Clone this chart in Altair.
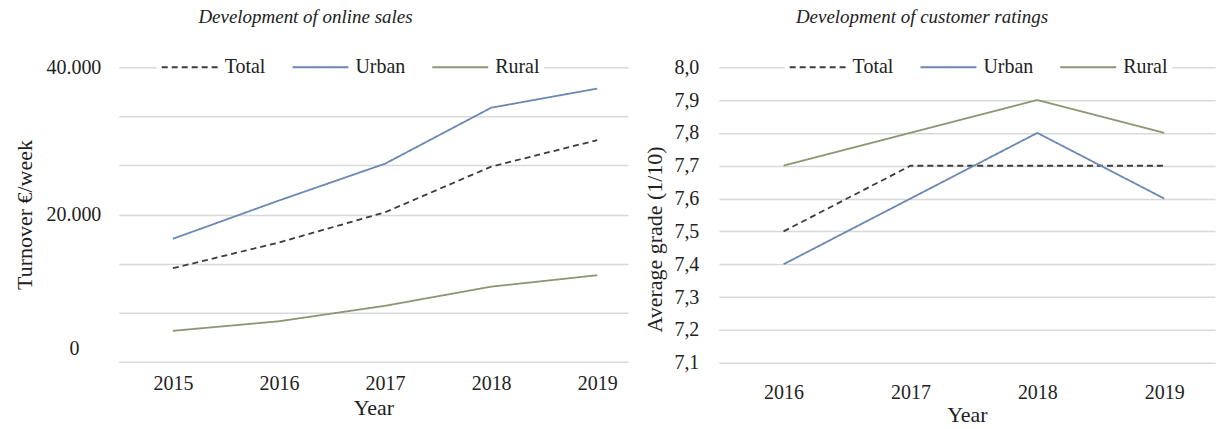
import altair as alt
import pandas as pd

# ---- data ----
series = ["Total", "Urban", "Rural"]

sales_years = [2015, 2016, 2017, 2018, 2019]
sales_total = [12700, 16200, 20300, 26500, 30100]
sales_urban = [16700, 21900, 26900, 34500, 37100]
sales_rural = [4200, 5500, 7600, 10200, 11750]

rating_years = [2016, 2017, 2018, 2019]
rating_total = [7.5, 7.7, 7.7, 7.7]
rating_urban = [7.4, 7.6, 7.8, 7.6]
rating_rural = [7.7, 7.8, 7.9, 7.8]

sales_grid = [0, 40000 / 6, 2 * 40000 / 6, 20000, 4 * 40000 / 6, 5 * 40000 / 6, 40000]
rating_grid = [7.1, 7.2, 7.3, 7.4, 7.5, 7.6, 7.7, 7.8, 7.9, 8.0]

colors = ["#3c3c3c", "#6b87b2", "#8a9770"]
dashes = [[6, 4], [1, 0], [1, 0]]

FONT = "Liberation Serif"


def long_df(years, vals):
    rows = []
    for name, v in zip(series, vals):
        for y, val in zip(years, v):
            rows.append({"Year": y, "Value": val, "Series": name})
    return pd.DataFrame(rows)


sales_df = long_df(sales_years, [sales_total, sales_urban, sales_rural])
rating_df = long_df(rating_years, [rating_total, rating_urban, rating_rural])


def legend(x):
    return alt.Legend(
        title=None, orient="none", direction="horizontal",
        legendX=x, legendY=-14, symbolType="stroke", symbolSize=3136, clipHeight=20,
        symbolStrokeWidth=2, labelFont=FONT, labelFontSize=20, labelColor="#222222",
        labelOffset=6, columnPadding=26, padding=4, fillColor="white",
    )


def enc(lx):
    return dict(
        color=alt.Color("Series:N", scale=alt.Scale(domain=series, range=colors), legend=legend(lx)),
        strokeDash=alt.StrokeDash("Series:N", scale=alt.Scale(domain=series, range=dashes), legend=legend(lx)),
    )


axis_common = dict(
    domain=False, ticks=False, tickSize=0,
    gridColor="#d9d9d9", gridWidth=1.5,
    labelFont=FONT, labelFontSize=20, labelColor="#222222",
    titleFont=FONT, titleFontSize=22, titleFontWeight="normal", titleColor="#222222",
)

left = alt.Chart(sales_df).mark_line(strokeWidth=1.8).encode(
    x=alt.X("Year:Q", scale=alt.Scale(domain=[2014.49, 2019.29], nice=False, zero=False),
            axis=alt.Axis(values=sales_years, format="d", title="Year", labelPadding=12, titlePadding=4,
                          grid=False, **axis_common)),
    y=alt.Y("Value:Q", scale=alt.Scale(domain=[0, 40000], nice=False),
            axis=alt.Axis(values=sales_grid, title="Turnover €/week", titlePadding=9,
                          labelPadding={"condition": {"test": "datum.value == 0", "value": 40}, "value": 18},
                          labelOffset={"condition": {"test": "datum.value == 0", "value": -13}, "value": 0},
                          labelExpr="datum.value == 0 ? '0' : abs(datum.value - 20000) < 1 ? '20.000' : abs(datum.value - 40000) < 1 ? '40.000' : ''",
                          **axis_common)),
    order="Year:Q",
    **enc(38),
).properties(
    width=510, height=295,
    title=alt.TitleParams("Development of online sales", font=FONT, fontStyle="italic", fontWeight="normal",
                          fontSize=19, color="#222222", anchor="middle", dx=-68, offset=26),
)

right = alt.Chart(rating_df).mark_line(strokeWidth=1.8).encode(
    x=alt.X("Year:Q", scale=alt.Scale(domain=[2015.49, 2019.40], nice=False, zero=False),
            axis=alt.Axis(values=rating_years, format="d", title="Year", labelPadding=20, titlePadding=2,
                          grid=False, **axis_common)),
    y=alt.Y("Value:Q", scale=alt.Scale(domain=[7.1, 8.0], nice=False, zero=False),
            axis=alt.Axis(values=rating_grid, title="Average grade (1/10)", titlePadding=7, titleY=172,
                          labelPadding=20,
                          labelExpr="replace(format(datum.value, '.1f'), '.', ',')",
                          **axis_common)),
    order="Year:Q",
    **enc(66),
).properties(
    width=497, height=296,
    title=alt.TitleParams("Development of customer ratings", font=FONT, fontStyle="italic", fontWeight="normal",
                          fontSize=19, color="#222222", anchor="middle", dx=-45, offset=26),
)

chart = alt.hconcat(left, right, spacing=16).resolve_scale(
    color="independent", strokeDash="independent"
).properties(
    padding={"left": 14, "top": 8, "right": 9, "bottom": 0},
    background="white",
).configure_view(stroke=None)

chart.save("out.html", embed_options={"renderer": "svg", "actions": False})
